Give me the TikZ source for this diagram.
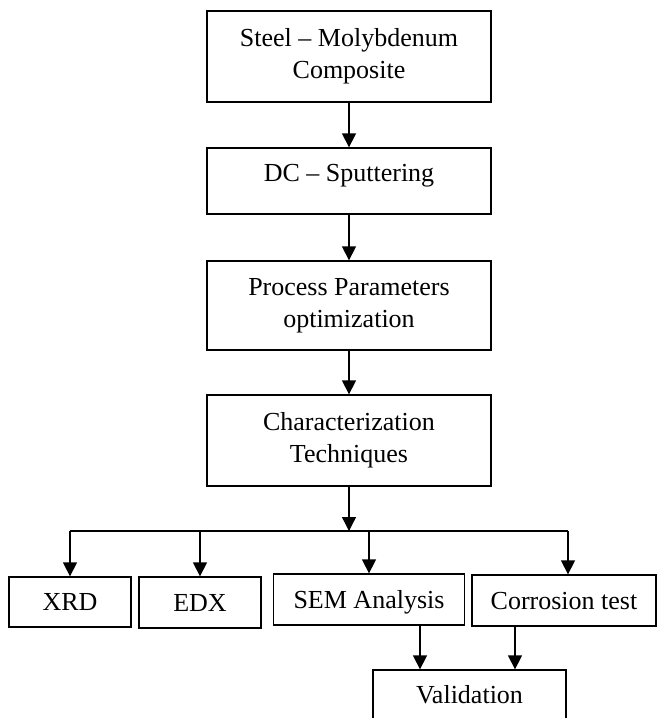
\documentclass[tikz,border=0pt]{standalone}
\usepackage{fontspec}
\setmainfont{Liberation Serif}
\usetikzlibrary{arrows.meta, positioning}

\begin{document}
\begin{tikzpicture}[x=1pt, y=-1pt,
		box/.style={draw, line width=1.3pt, inner sep=0pt, align=center, font=\fontsize{26}{32}\selectfont},
		oneline/.style={text height=17.2pt, text depth=0pt},
		arr/.style={line width=1.3pt, -{Triangle[width=14pt, length=14pt]}}]
		% Frame
		\useasboundingbox (0,0) rectangle (657,718);
		\clip (0,0) rectangle (657,718);
		% Main column
		\node[box, minimum width=284pt, minimum height=91pt] (steel) at (349,56.5) {Steel – Molybdenum\\Composite};
		\node[box, minimum width=284pt, minimum height=66pt, text height=17.2pt, text depth=16pt] (sput) at (349,181) {DC – Sputtering};
		\node[box, minimum width=284pt, minimum height=89pt] (param) at (349,305.5) {Process Parameters\\optimization};
		\node[box, minimum width=284pt, minimum height=91pt] (charac) at (349,440.5) {Characterization\\Techniques};
		% Techniques
		\node[box, oneline, minimum width=122pt, minimum height=50pt] (xrd) at (70,602) {XRD};
		\node[box, oneline, minimum width=122pt, minimum height=51pt] (edx) at (200,602.5) {EDX};
		\node[box, oneline, minimum width=191pt, minimum height=51pt] (sem) at (369,599.5) {SEM Analysis};
		\node[box, oneline, minimum width=184pt, minimum height=51pt] (cor) at (564,600.5) {Corrosion test};
		\node[box, oneline, minimum width=193pt, minimum height=50pt] (val) at (469.5,695) {Validation};

		\draw[arr] (steel) -- (sput);
		\draw[arr] (sput) -- (param);
		\draw[arr] (param) -- (charac);

		% Branch line
		\coordinate (hl) at (70,531);
		\coordinate (hm) at (349,531);
		\coordinate (hr) at (568,531);
		\draw[arr] (charac) -- (hm);
		\draw[line width=1.3pt] (hl) -- (hr);
		\draw[arr] (hl) -- (xrd);
		\draw[arr] (edx.north |- hl) -- (edx);
		\draw[arr] (sem.north |- hl) -- (sem);
		\draw[arr] (hr) -- (hr |- cor.north);

		% To validation
		\coordinate (s1) at ([xshift=51pt]sem.south);
		\coordinate (c1) at ([xshift=-49pt]cor.south);
		\draw[arr] (s1) -- (s1 |- val.north);
		\draw[arr] (c1) -- (c1 |- val.north);
	\end{tikzpicture}
\end{document}
